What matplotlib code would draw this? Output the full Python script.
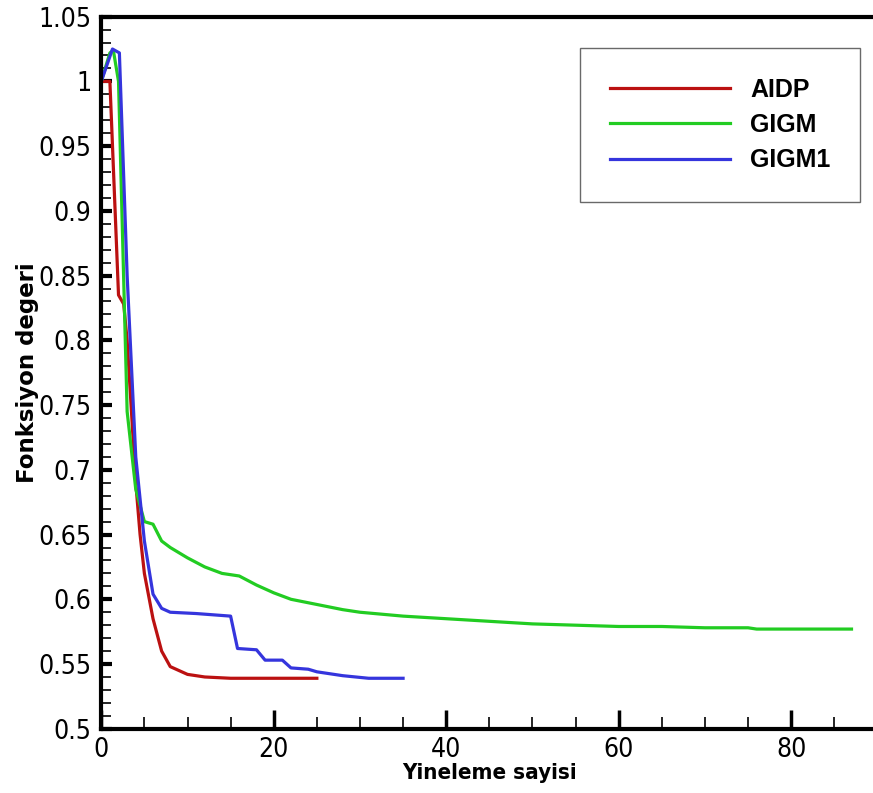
import matplotlib.pyplot as plt
from matplotlib.ticker import MultipleLocator

# AIDP
aidp_x = [0, 1, 2, 2.6, 3, 4, 4.5, 5, 6, 7, 8, 9, 10, 11, 12, 15, 20, 25]
aidp_y = [1.0, 1.0, 0.835, 0.828, 0.80, 0.69, 0.65, 0.62, 0.585, 0.56, 0.548, 0.545, 0.542, 0.541, 0.540, 0.539, 0.539, 0.539]

# GIGM
gigm_x = [0, 1, 1.4, 2, 3, 4, 5, 6, 7, 8, 10, 12, 14, 15, 16, 18, 20, 22, 25, 28, 30, 35,
          40, 45, 50, 55, 60, 65, 70, 75, 76, 80, 87]
gigm_y = [1.0, 1.022, 1.024, 1.0, 0.745, 0.685, 0.66, 0.658, 0.645, 0.64, 0.632, 0.625, 0.62,
          0.619, 0.618, 0.611, 0.605, 0.600, 0.596, 0.592, 0.590, 0.587,
          0.585, 0.583, 0.581, 0.580, 0.579, 0.579, 0.578, 0.578, 0.577, 0.577, 0.577]

# GIGM1
gigm1_x = [0, 1.3, 2.1, 3, 4, 5, 6, 7, 8, 11, 13, 15, 15.8, 18, 19, 21, 22, 24, 25, 28, 31, 35]
gigm1_y = [1.0, 1.025, 1.022, 0.85, 0.71, 0.645, 0.604, 0.593, 0.590, 0.589, 0.588, 0.587,
           0.562, 0.561, 0.553, 0.553, 0.547, 0.546, 0.544, 0.541, 0.539, 0.539]

plt.rcParams['font.family'] = ['DejaVu Sans']
plt.rcParams['font.stretch'] = 'condensed'

fig = plt.figure(figsize=(8.73, 7.93), dpi=100)
ax = fig.add_axes([0.116, 0.081, 0.889, 0.898])

ax.plot(aidp_x, aidp_y, color='#bb1111', lw=2.3, label='AIDP')
ax.plot(gigm_x, gigm_y, color='#22cc22', lw=2.3, label='GIGM')
ax.plot(gigm1_x, gigm1_y, color='#3535dd', lw=2.3, label='GIGM1')

ax.set_xlim(0, 90)
ax.set_ylim(0.5, 1.05)
ax.xaxis.set_major_locator(MultipleLocator(20))
ax.xaxis.set_minor_locator(MultipleLocator(5))
ax.yaxis.set_minor_locator(MultipleLocator(0.01))
ax.set_yticks([0.5, 0.55, 0.6, 0.65, 0.7, 0.75, 0.8, 0.85, 0.9, 0.95, 1.0, 1.05])
ax.set_yticklabels(['0.5', '0.55', '0.6', '0.65', '0.7', '0.75', '0.8', '0.85', '0.9', '0.95', '1', '1.05'])

ax.tick_params(which='both', direction='in', labelsize=19, top=False, right=False)
ax.tick_params(axis='x', which='major', length=14, width=2.5, pad=6)
ax.tick_params(axis='x', which='minor', length=9, width=1.2)
ax.tick_params(axis='y', which='major', length=8, width=3, pad=7)
ax.tick_params(axis='y', which='minor', length=7, width=1.2)
for s in ax.spines.values():
    s.set_linewidth(3)

ax.set_xlabel('Yineleme sayisi', fontsize=16, fontweight='bold', labelpad=0)
ax.set_ylabel('Fonksiyon degeri', fontsize=16.5, fontweight='bold', fontstretch='normal',
              labelpad=0)

leg = ax.legend(loc='upper right', bbox_to_anchor=(0.978, 0.956),
                prop={'weight': 'bold', 'size': 18, 'family': 'Liberation Sans', 'stretch': 'normal'},
                handlelength=4.8, handletextpad=0.8, borderpad=1.2, labelspacing=0.45,
                fancybox=False, edgecolor='#444444', borderaxespad=0)
leg.get_frame().set_linewidth(1.0)

plt.savefig('out.png', dpi=100)
